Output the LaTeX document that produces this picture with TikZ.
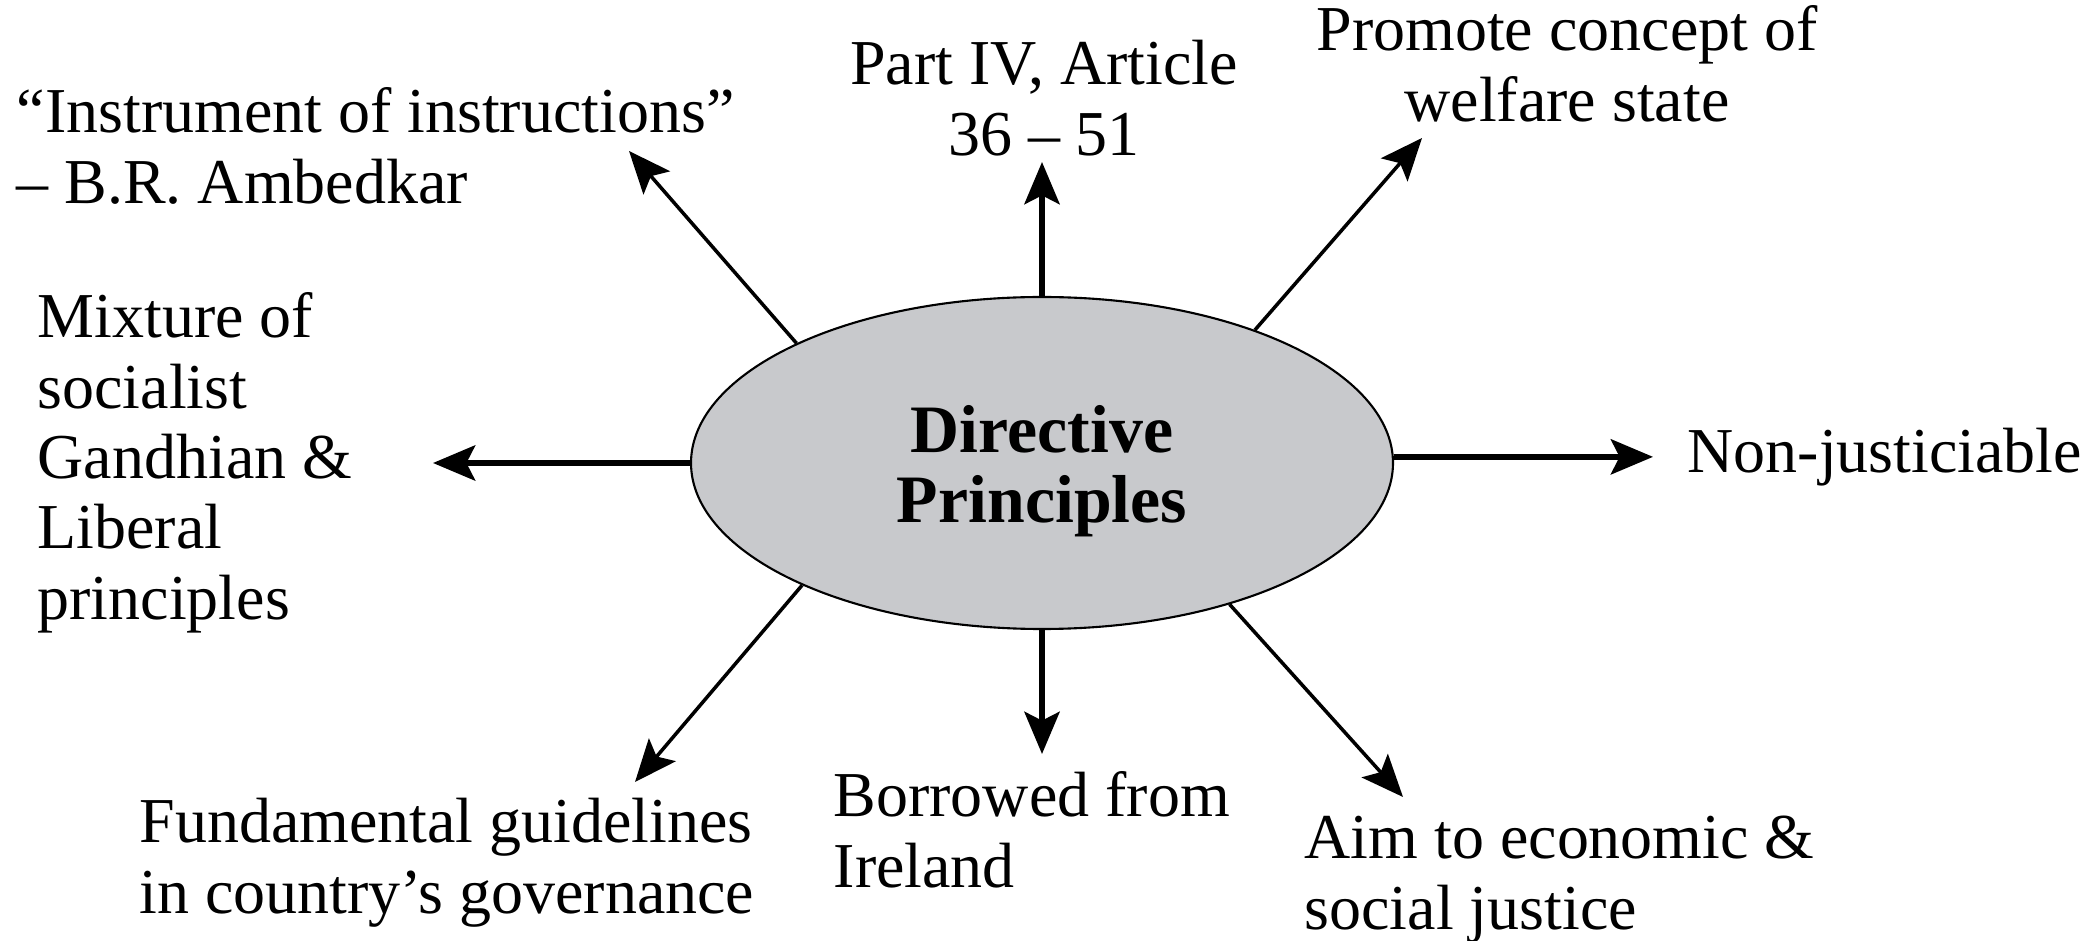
\documentclass[tikz,border=0pt]{standalone}
\usepackage{fontspec}
\setmainfont{Liberation Serif}
\usetikzlibrary{arrows.meta,shapes.geometric}
\definecolor{hubgray}{RGB}{200,201,204}
\begin{document}
\begin{tikzpicture}[x=0.1mm,y=-0.1mm,
  lbl/.style={inner sep=0pt, font=\fontsize{18.2}{20}\selectfont, align=left, anchor=north west},
  clbl/.style={lbl, align=center, anchor=north},
  hub/.style={ellipse, draw=black, line width=0.6pt, fill=hubgray,
    minimum width=70.2mm, minimum height=33.2mm, inner sep=0pt,
    font=\fontsize{19.3}{20}\selectfont\bfseries, align=center},
  tip/.style={-{Stealth[length=12pt,width=10pt,inset=2.5pt]}},
  axisarrow/.style={tip, line width=1.6pt},
  diagarrow/.style={tip, line width=1pt}
]
\useasboundingbox (0,0) rectangle (2100,941);
\fill[white] (0,0) rectangle (2100,941);

% central ellipse
\node[hub] (dp) at (1042,463) {\rule{0pt}{18pt}Directive\\Principles};

% labels
\node[lbl]  (instr) at (16,83)    {\strut “Instrument of instructions”\\– B.R. Ambedkar};
\node[clbl] (part)  at (1044,35)  {\strut Part IV, Article\\36 – 51};
\node[clbl] (prom)  at (1567,1)   {\strut Promote concept of\\welfare state};
\node[lbl]  (mix)   at (37,288)   {\strut Mixture of\\socialist\\Gandhian \&\\Liberal\\principles};
\node[lbl]  (nonj)  at (1687,423) {\strut Non-justiciable};
\node[lbl]  (fund)  at (139,793)  {\strut Fundamental guidelines\\in country’s governance};
\node[lbl]  (borr)  at (833,767)  {\strut Borrowed from\\Ireland};
\node[lbl]  (aim)   at (1304,809) {\strut Aim to economic \&\\social justice};

% arrow tips
\coordinate (tUL) at (629,151);
\coordinate (tU)  at (1043,162);
\coordinate (tUR) at (1422,138);
\coordinate (tL)  at (433,463);
\coordinate (tR)  at (1653,457);
\coordinate (tLL) at (635,782);
\coordinate (tD)  at (1039,754);
\coordinate (tLR) at (1403,797);

% connectors
\draw[diagarrow] (dp.154.6) -- (tUL);
\draw[axisarrow] (dp.north) -- (dp.north |- tU);
\draw[diagarrow] (dp.32.6) -- (tUR);
\draw[axisarrow] (dp.west) -- (dp.west -| tL);
\draw[axisarrow] (dp.1) -- (dp.1 -| tR);
\draw[diagarrow] (dp.207.8) -- (tLL);
\draw[axisarrow] (dp.south) -- (dp.south |- tD);
\draw[diagarrow] (dp.323.8) -- (tLR);
\end{tikzpicture}
\end{document}
